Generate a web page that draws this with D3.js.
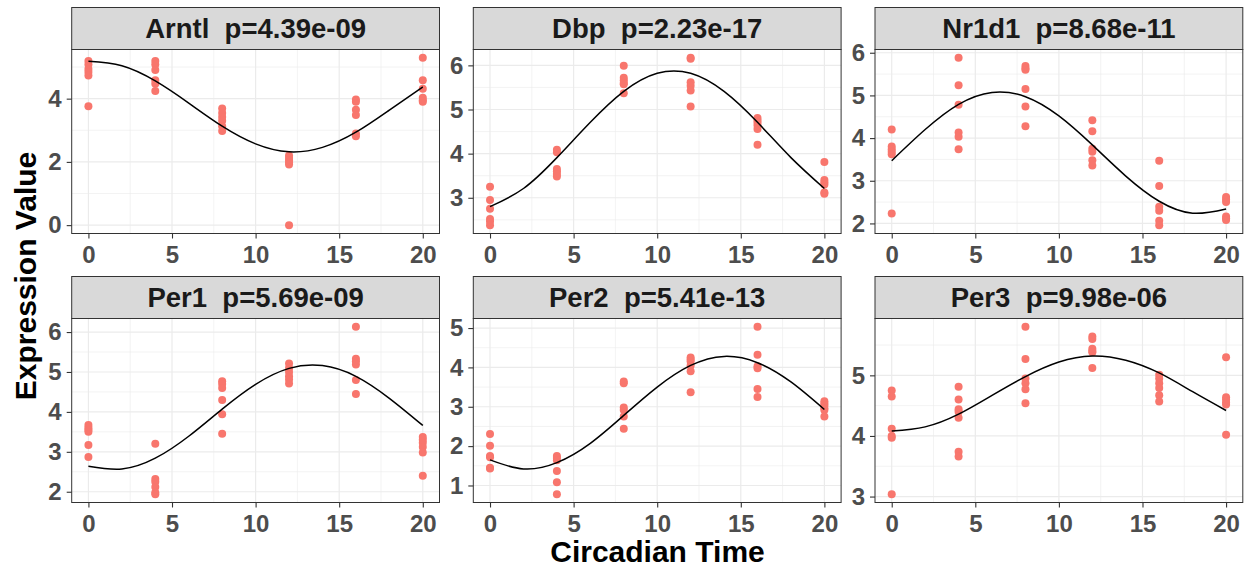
<!DOCTYPE html>
<html>
<head>
<meta charset="utf-8">
<script src="https://cdn.jsdelivr.net/npm/d3@7"></script>
<style>
  body { margin: 0; background: #fff; }
  svg { display: block; }
  text { font-family: "Liberation Sans", Arial, Helvetica, sans-serif; font-weight: bold; }
</style>
</head>
<body>
<svg id="chart" width="1250" height="571"></svg>
<script>
// Sampling times (circadian time, hours)
const times = [0, 4, 8, 12, 16, 20];
const xTicks = [0, 5, 10, 15, 20];

// Genes and rhythmicity p-values
const genes = ["Arntl", "Dbp", "Nr1d1", "Per1", "Per2", "Per3"];
const pValues = ["4.39e-09", "2.23e-17", "8.68e-11", "5.69e-09", "5.41e-13", "9.98e-06"];

// Replicate expression values, one row per sampling time
const arntlValues = [
  [5.19, 5.08, 4.94, 4.84, 4.73, 3.76],
  [5.19, 5.08, 4.91, 4.58, 4.47, 4.24],
  [3.69, 3.55, 3.42, 3.30, 3.13, 2.98],
  [2.20, 2.12, 2.05, 1.98, 1.92, 0.00],
  [3.97, 3.90, 3.65, 3.48, 2.90, 2.81],
  [5.29, 4.58, 4.31, 4.03, 3.95, 3.90]
];
const dbpValues = [
  [3.25, 2.95, 2.75, 2.52, 2.46, 2.38],
  [4.09, 4.03, 3.65, 3.60, 3.54, 3.48],
  [5.99, 5.72, 5.66, 5.60, 5.57, 5.37],
  [6.17, 6.15, 5.62, 5.54, 5.43, 5.07],
  [4.81, 4.75, 4.70, 4.64, 4.56, 4.20],
  [3.81, 3.40, 3.35, 3.30, 3.12, 3.09]
];
const nr1d1Values = [
  [4.20, 3.80, 3.74, 3.68, 3.62, 2.23],
  [5.88, 5.24, 4.78, 4.13, 4.03, 3.74],
  [5.69, 5.63, 5.60, 5.15, 4.74, 4.28],
  [4.42, 4.16, 3.75, 3.68, 3.48, 3.36],
  [3.47, 2.88, 2.39, 2.30, 2.06, 1.96],
  [2.62, 2.56, 2.50, 2.16, 2.12, 2.08]
];
const per1Values = [
  [3.67, 3.60, 3.55, 3.50, 3.17, 2.87],
  [3.20, 2.32, 2.25, 2.12, 1.98, 1.94],
  [4.77, 4.70, 4.60, 4.30, 3.94, 3.45],
  [5.21, 5.10, 5.00, 4.89, 4.81, 4.71],
  [6.13, 5.33, 5.27, 5.19, 4.80, 4.45],
  [3.37, 3.30, 3.23, 3.12, 2.98, 2.40]
];
const per2Values = [
  [2.31, 2.01, 1.75, 1.72, 1.45, 1.43],
  [1.75, 1.70, 1.64, 1.37, 1.08, 0.78],
  [3.64, 3.60, 2.98, 2.92, 2.75, 2.44],
  [4.25, 4.20, 4.15, 4.05, 3.90, 3.37],
  [5.03, 4.32, 4.03, 3.98, 3.45, 3.25],
  [3.14, 3.08, 3.03, 2.96, 2.92, 2.75]
];
const per3Values = [
  [4.75, 4.65, 4.12, 4.00, 3.97, 3.04],
  [4.81, 4.60, 4.44, 4.40, 4.30, 3.74, 3.66],
  [5.80, 5.27, 4.95, 4.87, 4.77, 4.54],
  [5.64, 5.60, 5.44, 5.40, 5.38, 5.12],
  [5.01, 4.95, 4.87, 4.79, 4.67, 4.57],
  [5.30, 4.64, 4.60, 4.55, 4.52, 4.02]
];

// Fitted cosinor curves, sampled every 2 hours
const fitTimes = [0, 2, 4, 6, 8, 10, 12, 14, 16, 18, 20];
const arntlFit = [5.18, 5.04, 4.56, 3.86, 3.13, 2.57, 2.32, 2.46, 2.94, 3.64, 4.37];
const dbpFit   = [2.80, 3.21, 3.91, 4.71, 5.41, 5.82, 5.82, 5.41, 4.71, 3.91, 3.21];
const nr1d1Fit = [3.47, 4.20, 4.79, 5.07, 4.97, 4.52, 3.84, 3.11, 2.52, 2.24, 2.34];
const per1Fit  = [2.64, 2.57, 2.84, 3.39, 4.07, 4.69, 5.09, 5.16, 4.89, 4.34, 3.66];
const per2Fit  = [1.65, 1.42, 1.58, 2.07, 2.78, 3.50, 4.05, 4.28, 4.12, 3.63, 2.93];
const per3Fit  = [4.08, 4.15, 4.36, 4.67, 4.98, 5.22, 5.32, 5.25, 5.04, 4.73, 4.42];

// Y-axis tick labels per panel
const arntlTicks = [0, 2, 4];
const dbpTicks   = [3, 4, 5, 6];
const nr1d1Ticks = [2, 3, 4, 5, 6];
const per1Ticks  = [2, 3, 4, 5, 6];
const per2Ticks  = [1, 2, 3, 4, 5];
const per3Ticks  = [3, 4, 5];

const panels = [
  { values: arntlValues, fit: arntlFit, ticks: arntlTicks },
  { values: dbpValues,   fit: dbpFit,   ticks: dbpTicks },
  { values: nr1d1Values, fit: nr1d1Fit, ticks: nr1d1Ticks },
  { values: per1Values,  fit: per1Fit,  ticks: per1Ticks },
  { values: per2Values,  fit: per2Fit,  ticks: per2Ticks },
  { values: per3Values,  fit: per3Fit,  ticks: per3Ticks }
];

// Layout
const colLeft = [71.7, 473.3, 875];
const panelW = 367.8;
const rowTop = [49.5, 318.5];
const panelH = 184;
const stripH = 42;
const pointColor = "#F8766D";

const svg = d3.select("#chart");

panels.forEach((p, i) => {
  const left = colLeft[i % 3];
  const top = rowTop[Math.floor(i / 3)];
  const g = svg.append("g");

  const x = d3.scaleLinear().domain([-1, 21]).range([left, left + panelW]);

  const pts = [];
  p.values.forEach((vals, k) => vals.forEach(v => pts.push({ t: times[k], v })));
  const ext = d3.extent(pts.map(d => d.v).concat(p.fit));
  const pad = (ext[1] - ext[0]) * 0.05;
  const y = d3.scaleLinear().domain([ext[0] - pad, ext[1] + pad]).range([top + panelH, top]);

  // panel background
  g.append("rect").attr("x", left).attr("y", top).attr("width", panelW).attr("height", panelH).attr("fill", "#fff");

  // minor grid
  const ystep = p.ticks[1] - p.ticks[0];
  const yMinor = [];
  for (let v = p.ticks[0] - ystep / 2; v <= y.domain()[1]; v += ystep) {
    if (v >= y.domain()[0]) yMinor.push(v);
  }
  const xMinor = [2.5, 7.5, 12.5, 17.5];
  g.selectAll(".ymin").data(yMinor).join("line")
    .attr("x1", left).attr("x2", left + panelW)
    .attr("y1", d => y(d)).attr("y2", d => y(d))
    .attr("stroke", "#ebebeb").attr("stroke-width", 0.6);
  g.selectAll(".xmin").data(xMinor).join("line")
    .attr("x1", d => x(d)).attr("x2", d => x(d))
    .attr("y1", top).attr("y2", top + panelH)
    .attr("stroke", "#ebebeb").attr("stroke-width", 0.6);

  // major grid
  g.selectAll(".ymaj").data(p.ticks).join("line")
    .attr("x1", left).attr("x2", left + panelW)
    .attr("y1", d => y(d)).attr("y2", d => y(d))
    .attr("stroke", "#ebebeb").attr("stroke-width", 1.2);
  g.selectAll(".xmaj").data(xTicks).join("line")
    .attr("x1", d => x(d)).attr("x2", d => x(d))
    .attr("y1", top).attr("y2", top + panelH)
    .attr("stroke", "#ebebeb").attr("stroke-width", 1.2);

  // points
  g.selectAll(".pt").data(pts).join("circle")
    .attr("cx", d => x(d.t)).attr("cy", d => y(d.v)).attr("r", 4)
    .attr("fill", pointColor);

  // fitted curve
  const line = d3.line().x((d, k) => x(fitTimes[k])).y(d => y(d)).curve(d3.curveNatural);
  g.append("path").datum(p.fit).attr("d", line)
    .attr("fill", "none").attr("stroke", "#000").attr("stroke-width", 1.5);

  // panel border
  g.append("rect").attr("x", left).attr("y", top).attr("width", panelW).attr("height", panelH)
    .attr("fill", "none").attr("stroke", "#333").attr("stroke-width", 1);

  // strip
  g.append("rect").attr("x", left).attr("y", top - stripH).attr("width", panelW).attr("height", stripH)
    .attr("fill", "#d9d9d9").attr("stroke", "#333").attr("stroke-width", 1);
  g.append("text")
    .attr("x", left + panelW / 2).attr("y", top - stripH / 2).attr("dy", "0.36em")
    .attr("text-anchor", "middle").style("white-space", "pre")
    .attr("font-size", 27.5).attr("fill", "#1a1a1a")
    .text(genes[i] + "  p=" + pValues[i]);

  // axes
  const yAxis = g.append("g").attr("transform", `translate(${left},0)`)
    .call(d3.axisLeft(y).tickValues(p.ticks).tickSize(5).tickPadding(5).tickFormat(d3.format("d")));
  const xAxis = g.append("g").attr("transform", `translate(0,${top + panelH})`)
    .call(d3.axisBottom(x).tickValues(xTicks).tickSize(5).tickPadding(7).tickFormat(d3.format("d")));
  [yAxis, xAxis].forEach(a => {
    a.select(".domain").remove();
    a.selectAll(".tick line").attr("stroke", "#333").attr("stroke-width", 1.1);
    a.selectAll(".tick text").attr("fill", "#4d4d4d").attr("font-size", 24)
      .attr("font-family", null);
  });
});

// axis titles
svg.append("text").attr("x", 657.5).attr("y", 562).attr("text-anchor", "middle")
  .attr("font-size", 30).attr("fill", "#000").text("Circadian Time");
svg.append("text").attr("transform", "translate(36,276) rotate(-90)").attr("text-anchor", "middle")
  .attr("font-size", 30).attr("fill", "#000").text("Expression Value");
</script>
</body>
</html>
